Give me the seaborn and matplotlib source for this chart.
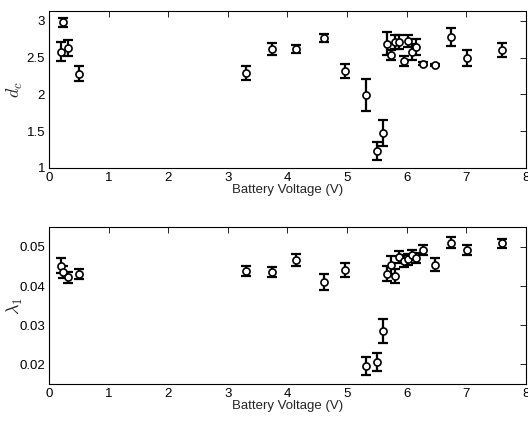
import matplotlib
matplotlib.use("Agg")
import matplotlib.pyplot as plt
import seaborn as sns
import pandas as pd

sns.set_style("white")
plt.rcParams['font.family'] = ['Liberation Sans', 'DejaVu Sans']
plt.rcParams['mathtext.fontset'] = 'cm'

# Battery voltage (V)
voltage_top = [0.20, 0.23, 0.32, 0.50, 3.31, 3.745, 4.15, 4.62, 4.96, 5.31,
               5.51, 5.60, 5.67, 5.74, 5.81, 5.88, 5.96, 6.02, 6.09, 6.15,
               6.28, 6.47, 6.74, 7.01, 7.61]
dc_values = [2.58, 2.98, 2.63, 2.28, 2.29, 2.62, 2.62, 2.77, 2.32, 1.99,
             1.23, 1.47, 2.69, 2.54, 2.71, 2.71, 2.455, 2.73, 2.58, 2.64,
             2.42, 2.40, 2.78, 2.50, 2.60]
dc_errors = [0.13, 0.06, 0.11, 0.10, 0.09, 0.08, 0.05, 0.05, 0.10, 0.22,
             0.125, 0.18, 0.16, 0.07, 0.095, 0.095, 0.065, 0.08, 0.11, 0.11,
             0.02, 0.02, 0.12, 0.11, 0.095]

voltage_bot = [0.20, 0.23, 0.32, 0.50, 3.31, 3.745, 4.15, 4.62, 4.96, 5.31,
               5.51, 5.60, 5.67, 5.74, 5.81, 5.88, 5.96, 6.02, 6.09, 6.15,
               6.28, 6.47, 6.74, 7.01, 7.61]
lambda_values = [0.0452, 0.0436, 0.0422, 0.0431, 0.0438, 0.0437, 0.0466, 0.0410,
                 0.0441, 0.0196, 0.0206, 0.0285, 0.0432, 0.0455, 0.0426, 0.0475,
                 0.0464, 0.0468, 0.0479, 0.0471, 0.0492, 0.0455, 0.0511, 0.0492,
                 0.0509]
lambda_errors = [0.0019, 0.0015, 0.0013, 0.0013, 0.0013, 0.0013, 0.0015, 0.0020,
                 0.0019, 0.0022, 0.0024, 0.0030, 0.0020, 0.0023, 0.0017, 0.0015,
                 0.0015, 0.0015, 0.0012, 0.0013, 0.0013, 0.0016, 0.0015, 0.0012,
                 0.0012]

x_ticks = [0, 1, 2, 3, 4, 5, 6, 7, 8]
top_yticks = [1, 1.5, 2, 2.5, 3]
top_ylabels = ['1', '1.5', '2', '2.5', '3']
bot_yticks = [0.02, 0.03, 0.04, 0.05]
bot_ylabels = ['0.02', '0.03', '0.04', '0.05']

df_top = pd.DataFrame({'V': voltage_top, 'y': dc_values, 'e': dc_errors})
df_bot = pd.DataFrame({'V': voltage_bot, 'y': lambda_values, 'e': lambda_errors})

fig = plt.figure(figsize=(5.28, 4.21), dpi=100)
ax1 = fig.add_axes([0.0934, 0.6017, 0.9022, 0.3729])
ax2 = fig.add_axes([0.0934, 0.0879, 0.9022, 0.3721])

def draw(ax, df, ylim, yticks, ylabels, ylabel):
    ax.errorbar(df['V'], df['y'], yerr=df['e'], fmt='none', ecolor='black',
                elinewidth=1.6, capsize=3.6, capthick=1.6, zorder=2)
    sns.scatterplot(data=df, x='V', y='y', ax=ax, marker='o', s=26,
                    facecolor='white', edgecolor='black', linewidth=1.2,
                    zorder=3, legend=False)
    ax.set_xlim(0, 8)
    ax.set_ylim(*ylim)
    ax.set_xticks(x_ticks)
    ax.set_xticklabels([str(t) for t in x_ticks])
    ax.set_yticks(yticks)
    ax.set_yticklabels(ylabels)
    ax.tick_params(direction='in', length=4, width=0.6, top=True, right=True,
                   labelsize=9.5, pad=3, colors='black')
    for s in ax.spines.values():
        s.set_visible(True)
        s.set_color('black')
        s.set_linewidth(0.8)
    ax.set_xlabel('Battery Voltage (V)', fontsize=9.5, labelpad=0)
    ax.set_ylabel(ylabel, fontsize=13, va='center')
    ax.yaxis.set_label_coords(-0.072, 0.5)

draw(ax1, df_top, (1, 3.14), top_yticks, top_ylabels, r'$d_c$')
draw(ax2, df_bot, (0.015, 0.055), bot_yticks, bot_ylabels, r'$\lambda_1$')

fig.savefig('out.png', dpi=100)
